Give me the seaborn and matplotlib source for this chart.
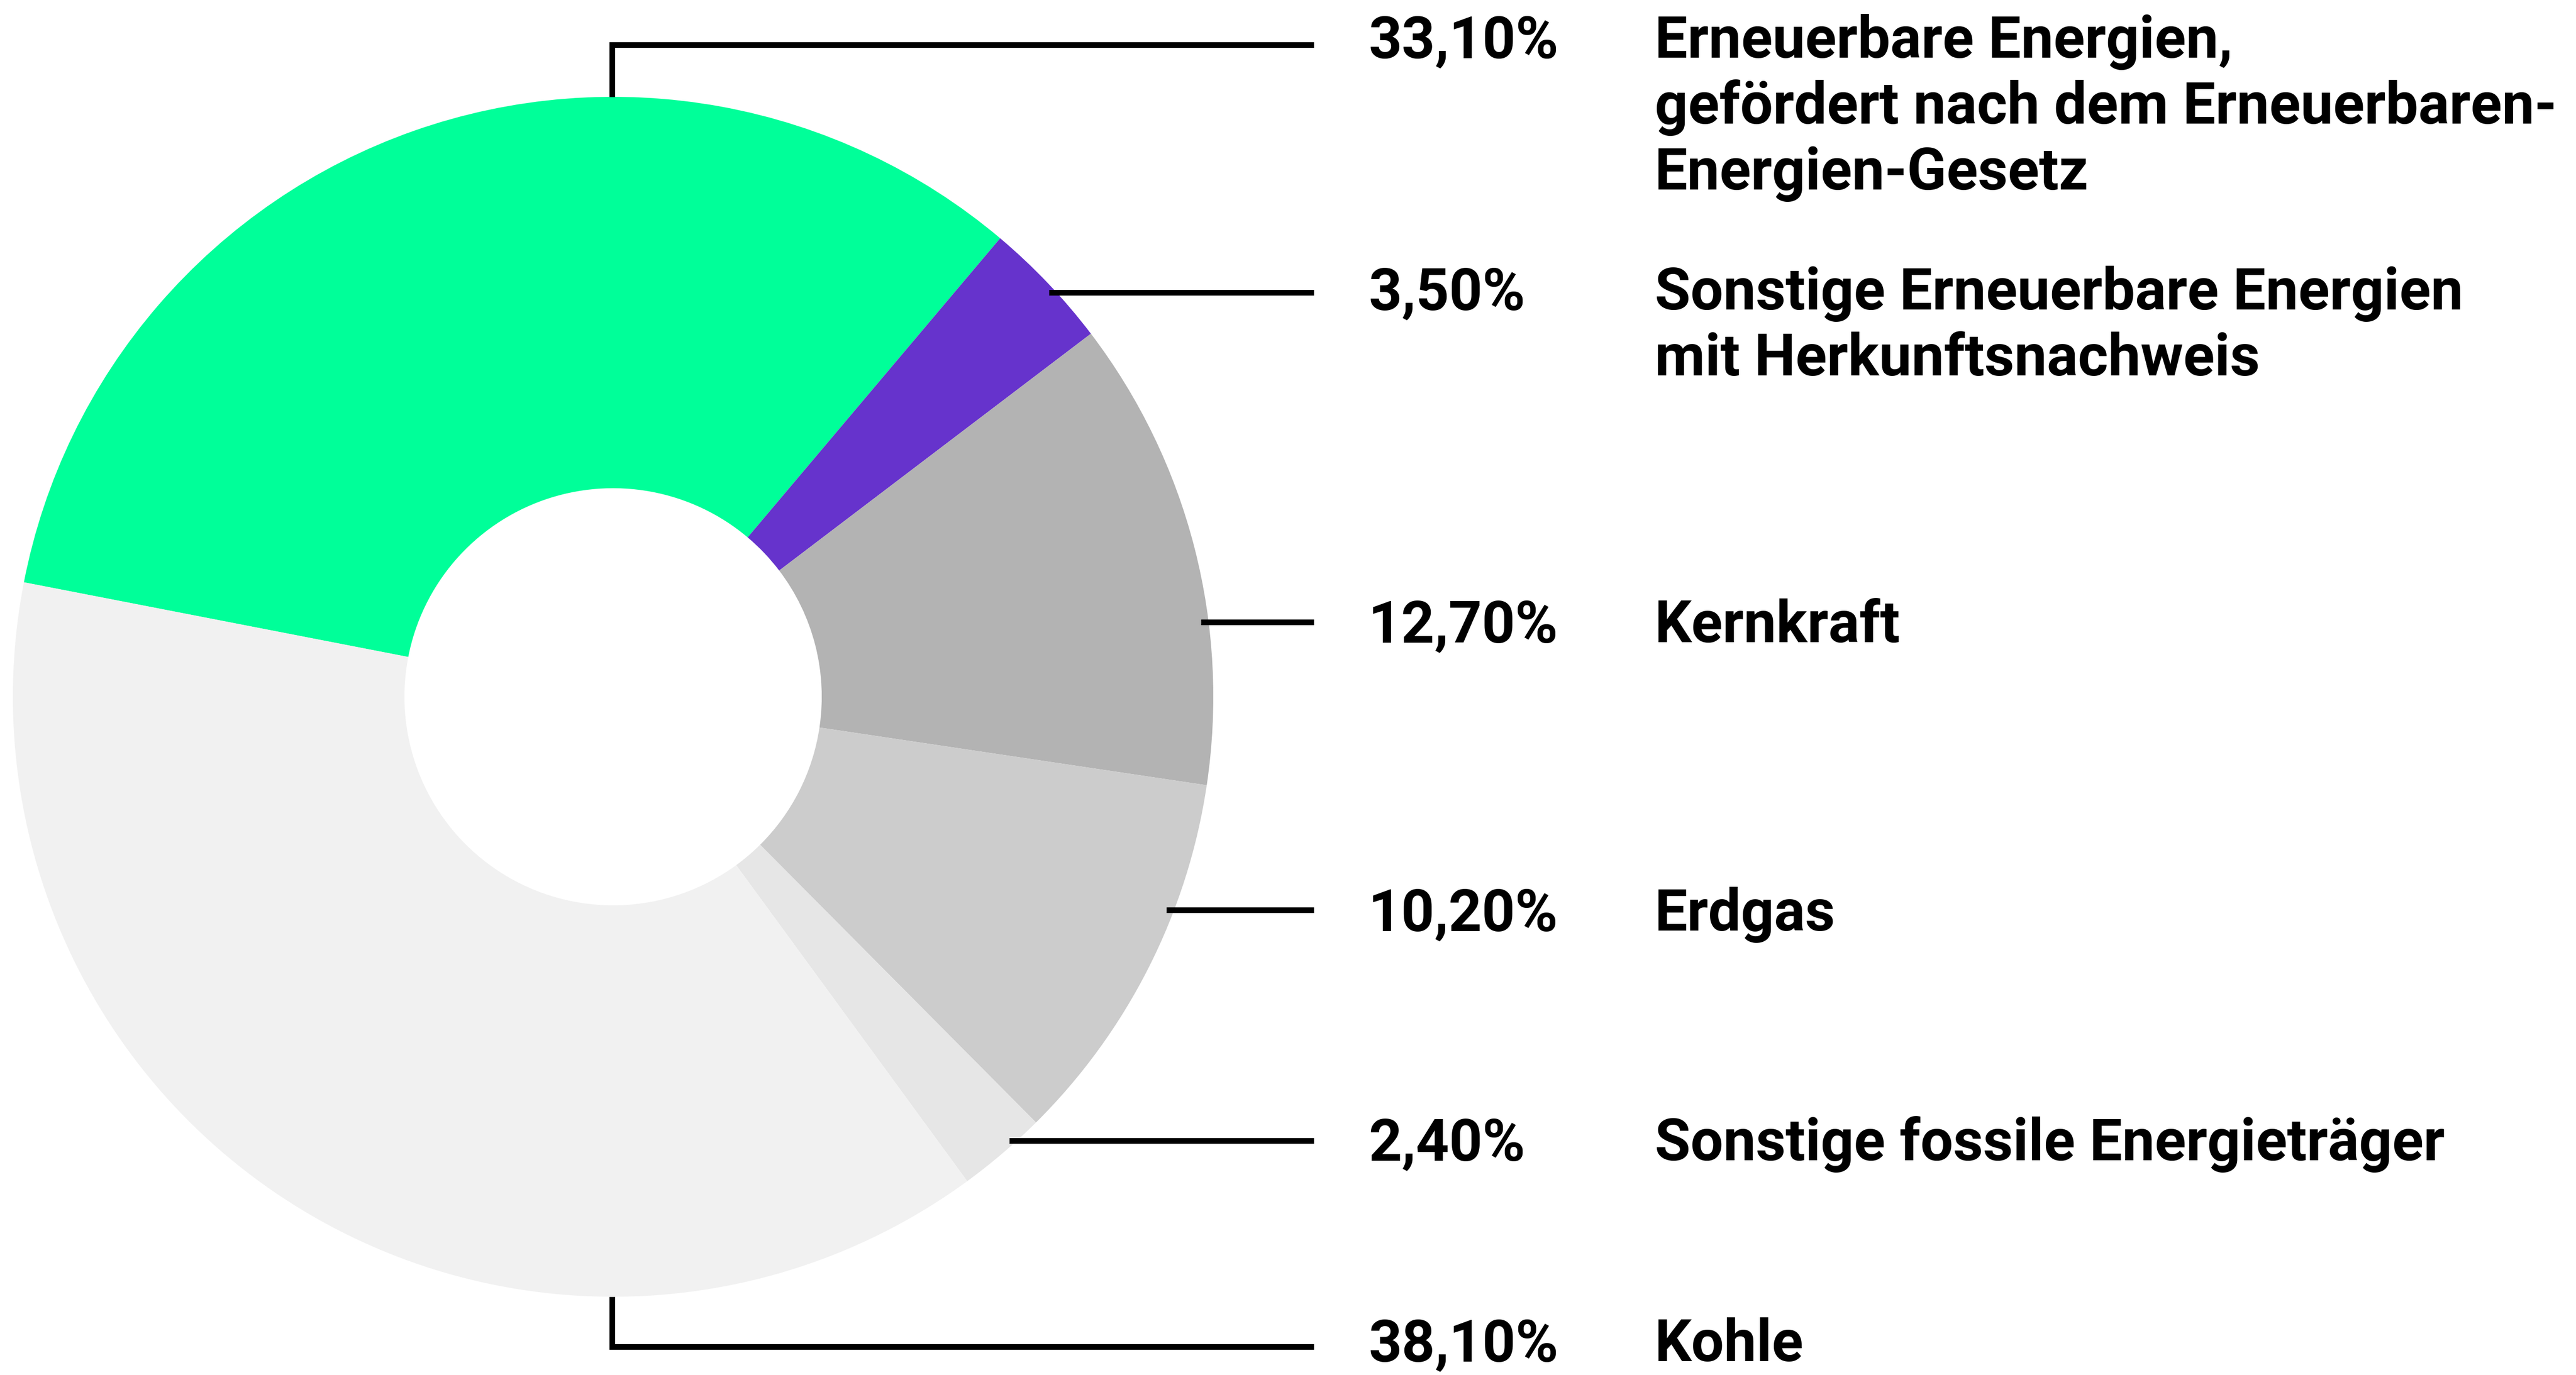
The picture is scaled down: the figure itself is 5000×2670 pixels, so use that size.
import matplotlib
matplotlib.use('Agg')
import matplotlib.pyplot as plt
from matplotlib import font_manager
from matplotlib.font_manager import FontProperties
from matplotlib.textpath import TextPath
import seaborn as sns
import numpy as np

# data
categories = ['Erneuerbare Energien,\ngefördert nach dem Erneuerbaren-\nEnergien-Gesetz',
              'Sonstige Erneuerbare Energien\nmit Herkunftsnachweis',
              'Kernkraft',
              'Erdgas',
              'Sonstige fossile Energieträger',
              'Kohle']
shares = [33.1, 3.5, 12.7, 10.2, 2.4, 38.1]
share_labels = ['33,10%', '3,50%', '12,70%', '10,20%', '2,40%', '38,10%']
colors = ['#00FF99', '#6633CC', '#B3B3B3', '#CCCCCC', '#E6E6E6', '#F1F1F1']

# layout (pixel units, y measured from top)
W, H = 5000, 2670
cx, cy = 1190, 1353
r_out = 1165
r_in = 405
line_y = [87, 568, 1208, 1767, 2215, 2615]
text_y = [72, 561, 1207, 1767, 2213, 2603]   # centre of the capitals
line_end = 2550
x_pct = 2656
x_name = 3212
line_gap = 128
lw = 2.64
ref_line = 'gefördert nach dem Erneuerbaren-'
ref_width = 1742
ref_cap = 78
families = ('Lato', 'OpenSans', 'Roboto', 'Inter', 'NotoSans', 'LiberationSans', 'DejaVuSans')

sns.set_style('white')


def ink(s, prop):
    ext = TextPath((0, 0), s, size=100, prop=prop).get_extents()
    return ext.width, ext.height


def pick_font():
    # among plain sans families, take the bold face whose width/cap-height ratio fits best
    best, best_err = None, None
    seen = set()
    for f in font_manager.fontManager.ttflist:
        name = f.fname.split('/')[-1]
        wt = f.weight if isinstance(f.weight, int) else font_manager.weight_dict.get(f.weight, 400)
        if not (700 <= wt <= 800) or f.style != 'normal':
            continue
        if not name.startswith(families) or name in seen:
            continue
        if any(k in name for k in ('Mono', 'CJK', 'Display', 'Italic', 'Math')):
            continue
        seen.add(name)
        try:
            prop = FontProperties(fname=f.fname)
            w, _ = ink(ref_line, prop)
            _, c = ink('H', prop)
        except Exception:
            continue
        err = abs(w / c - ref_width / ref_cap)
        if best_err is None or err < best_err:
            best, best_err = prop, err
    return best or FontProperties(family='DejaVu Sans', weight='bold')


fp = pick_font()
w100, _ = ink(ref_line, fp)
size_px = 100 * ref_width / w100
fp.set_size(size_px * 72 / 300)
_, cap100 = ink('H', fp)
cap = cap100 * size_px / 100

fig = plt.figure(figsize=(W / 300, H / 300), dpi=300)
ax = fig.add_axes([0, 0, 1, 1])

ax.pie(shares, colors=colors, startangle=169, counterclock=False,
       radius=r_out, center=(cx, H - cy),
       wedgeprops=dict(width=r_out - r_in, linewidth=0))

ax.set_xlim(0, W)
ax.set_ylim(0, H)
ax.set_aspect('equal')
ax.axis('off')

for i, y in enumerate(line_y):
    yy = H - y
    if i == 0 or i == len(line_y) - 1:
        edge = H - (cy - r_out) if i == 0 else H - (cy + r_out)
        ax.plot([cx - 2, cx - 2, line_end], [edge, yy, yy], color='black',
                lw=lw, solid_joinstyle='miter', solid_capstyle='butt')
    else:
        dy = y - cy
        x0 = cx + np.sqrt(r_out ** 2 - dy ** 2) - 15
        ax.plot([x0, line_end], [yy, yy], color='black', lw=lw,
                solid_capstyle='butt')
    base = H - text_y[i] - cap / 2
    ax.text(x_pct, base, share_labels[i], fontproperties=fp, color='black',
            va='baseline', ha='left')
    for j, part in enumerate(categories[i].split('\n')):
        ax.text(x_name, base - j * line_gap, part, fontproperties=fp,
                color='black', va='baseline', ha='left')

fig.savefig('out.png', dpi=300, facecolor='white')
